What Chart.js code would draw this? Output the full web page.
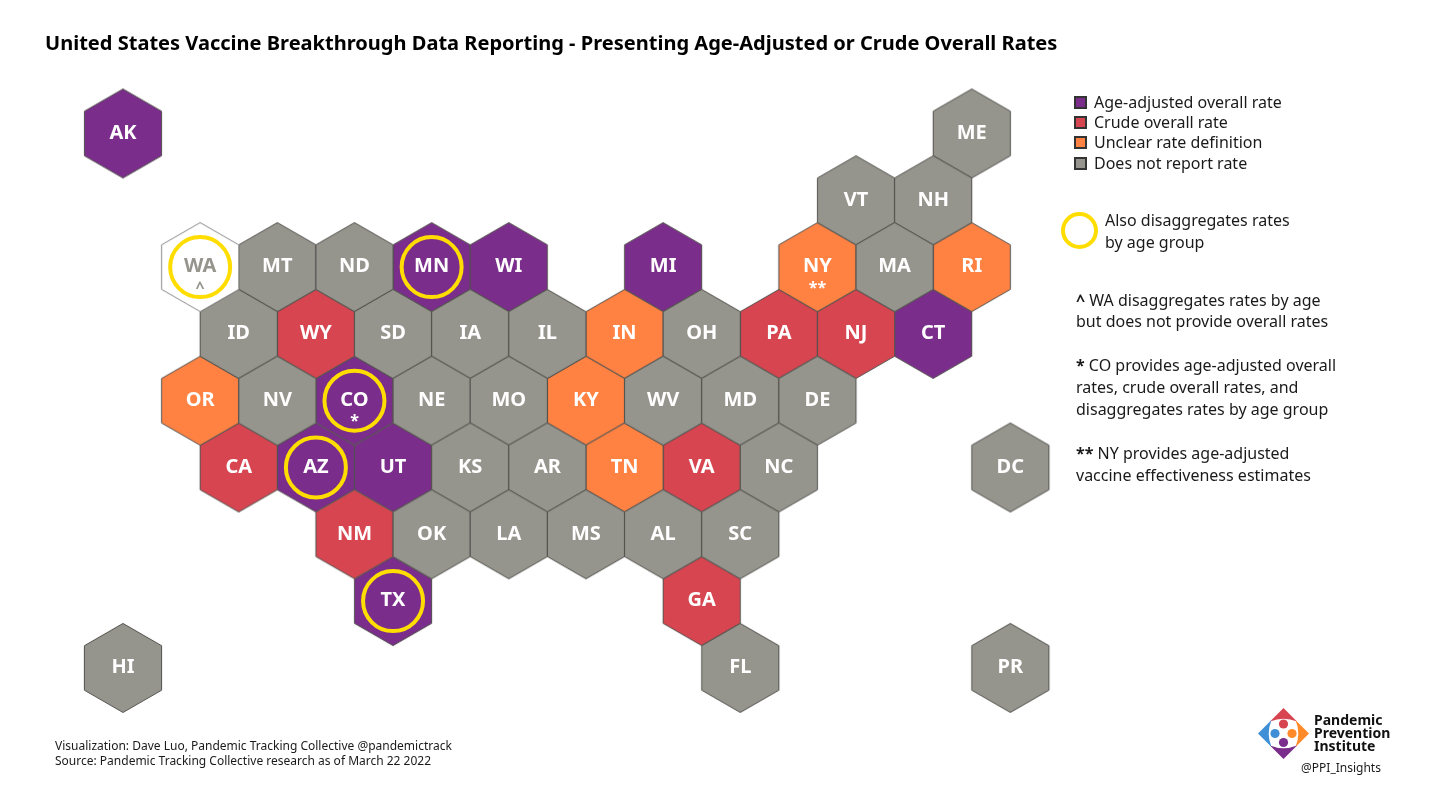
<!DOCTYPE html>
<html>
<head>
<meta charset="utf-8">
<script src="https://cdn.jsdelivr.net/npm/chart.js@4"></script>
<style>
  html, body { margin: 0; padding: 0; background: #fff; }
  body { width: 1440px; height: 793px; position: relative; overflow: hidden; font-family: "Noto Sans", sans-serif; color: #1a1a1a; }
  canvas { position: absolute; left: 0; top: 0; }
  .t { position: absolute; white-space: nowrap; transform: translateY(-50%); line-height: 1; }
  .title { font-size: 20.04px; font-weight: 700; color: #000; }
  .leg, .note { font-size: 16px; }
  .foot { font-size: 12px; }
  .logo { font-size: 14px; font-weight: 700; color: #111; }
  .swatch { position: absolute; width: 9px; height: 9px; border: 2px solid #333; }
  .ring { position: absolute; box-sizing: border-box; width: 37px; height: 37px; border: 4px solid #ffdd00; border-radius: 50%; }
</style>
</head>
<body>
<canvas id="map" width="1440" height="793"></canvas>
<svg id="logo" width="1440" height="793" style="position:absolute;left:0;top:0">
  <g>
    <path d="M1283.5 708 L1297 721.5 Q1283.5 716 1270 721.5 Z" fill="#d64550"/>
    <path d="M1283.5 708 L1297 721.5 Q1283.5 716 1270 721.5 Z" fill="#3f8fd6" transform="rotate(-90 1283.5 733.5)"/>
    <path d="M1283.5 708 L1297 721.5 Q1283.5 716 1270 721.5 Z" fill="#ff8a2a" transform="rotate(90 1283.5 733.5)"/>
    <path d="M1283.5 708 L1297 721.5 Q1283.5 716 1270 721.5 Z" fill="#7b2d8b" transform="rotate(180 1283.5 733.5)"/>
    <circle cx="1283.5" cy="724" r="4.6" fill="#d64550"/>
    <circle cx="1275" cy="733.5" r="4.6" fill="#3f8fd6"/>
    <circle cx="1292" cy="733.5" r="4.6" fill="#ff8a2a"/>
    <circle cx="1283.5" cy="742.5" r="4.6" fill="#7b2d8b"/>
  </g>
</svg>
<script>
// states, hex grid position (half columns, rows), reporting status
const stateCodes = ['AK','ME','VT','NH','WA','MT','ND','MN','WI','MI','NY','MA','RI','ID','WY','SD','IA','IL','IN','OH','PA','NJ','CT','OR','NV','CO','NE','MO','KY','WV','MD','DE','CA','AZ','UT','KS','AR','TN','VA','NC','DC','NM','OK','LA','MS','AL','SC','TX','GA','HI','FL','PR'];
const stateCols  = [0,22,19,21,2,4,6,8,10,14,18,20,22,3,5,7,9,11,13,15,17,19,21,2,4,6,8,10,12,14,16,18,3,5,7,9,11,13,15,17,23,6,8,10,12,14,16,7,15,0,16,23];
const stateRows  = [0,0,1,1,2,2,2,2,2,2,2,2,2,3,3,3,3,3,3,3,3,3,3,4,4,4,4,4,4,4,4,4,5,5,5,5,5,5,5,5,5,6,6,6,6,6,6,7,7,8,8,8];
const stateRates = ['adj','none','none','none','wa','none','none','adj','adj','adj','unclear','none','unclear','none','crude','none','none','none','unclear','none','crude','crude','adj','unclear','none','adj','none','none','unclear','none','none','none','crude','adj','adj','none','none','unclear','crude','none','none','crude','none','none','none','none','none','adj','crude','none','none','none'];
const ringStates = ['WA','MN','CO','AZ','TX'];
const markStates = ['WA','CO','NY'];
const markTexts  = ['^','*','**'];

const rateKeys   = ['adj','crude','unclear','none'];
const rateLabels = ['Age-adjusted overall rate','Crude overall rate','Unclear rate definition','Does not report rate'];
const rateColors = ['#7b2d8b','#d64550','#ff8243','#96958d'];

const titleText = 'United States Vaccine Breakthrough Data Reporting - Presenting Age-Adjusted or Crude Overall Rates';
const ringLines = ['Also disaggregates rates','by age group'];
const noteLines = [
  ['^',' WA disaggregates rates by age',300],['','but does not provide overall rates',321],
  ['*',' CO provides age-adjusted overall',365],['','rates, crude overall rates, and',387],['','disaggregates rates by age group',409],
  ['**',' NY provides age-adjusted',453],['','vaccine effectiveness estimates',475]
];
const footLines = ['Visualization: Dave Luo, Pandemic Tracking Collective @pandemictrack','Source: Pandemic Tracking Collective research as of March 22 2022'];
const logoLines = ['Pandemic','Prevention','Institute'];

function hexImage(fill, stroke) {
  const c = document.createElement('canvas');
  c.width = 82; c.height = 94;
  const g = c.getContext('2d');
  const hw = 38.6, hh = 44.5, q = 22.25, cx = 41, cy = 47;
  g.beginPath();
  g.moveTo(cx, cy - hh);
  g.lineTo(cx + hw, cy - q);
  g.lineTo(cx + hw, cy + q);
  g.lineTo(cx, cy + hh);
  g.lineTo(cx - hw, cy + q);
  g.lineTo(cx - hw, cy - q);
  g.closePath();
  g.fillStyle = fill; g.fill();
  g.lineWidth = 1; g.strokeStyle = stroke; g.stroke();
  return c;
}

function pointsFor(codes) {
  return codes.map(s => { const i = stateCodes.indexOf(s); return { x: stateCols[i], y: stateRows[i], code: s }; });
}

const rateSets = rateKeys.map((k, i) => ({
  label: rateLabels[i],
  data: pointsFor(stateCodes.filter((s, j) => stateRates[j] === k)),
  pointStyle: hexImage(rateColors[i], '#50504c'),
  order: 5 - i
}));

const hexLabels = {
  id: 'hexLabels',
  afterDatasetsDraw(chart) {
    const { ctx, scales: { x, y } } = chart;
    ctx.save();
    ctx.textAlign = 'center';
    ctx.textBaseline = 'middle';
    stateCodes.forEach((s, i) => {
      const px = x.getPixelForValue(stateCols[i]), py = y.getPixelForValue(stateRows[i]);
      ctx.fillStyle = s === 'WA' ? '#96958d' : '#fff';
      ctx.font = '700 20px "Noto Sans"';
      ctx.fillText(s, px, py - 0.5);
      const m = markStates.indexOf(s);
      if (m >= 0) {
        ctx.font = '700 16px "Noto Sans"';
        ctx.fillText(markTexts[m], px, py + 21);
      }
    });
    ctx.restore();
  }
};

new Chart(document.getElementById('map'), {
  type: 'scatter',
  data: { datasets: [
    { label: 'Also disaggregates rates by age group', data: pointsFor(ringStates), pointStyle: 'circle', pointRadius: 30, pointHoverRadius: 30, borderWidth: 4, borderColor: '#ffdd00', backgroundColor: 'rgba(0,0,0,0)', order: 0 },
    { label: 'Washington', data: pointsFor(['WA']), pointStyle: hexImage('#ffffff', '#8a8a8a'), order: 1 },
    ...rateSets
  ]},
  options: {
    responsive: false,
    animation: false,
    events: [],
    layout: { padding: 0, autoPadding: false },
    plugins: { legend: { display: false }, tooltip: { enabled: false } },
    // 1 half-column = 38.58px, 1 row = 66.8px, AK hex centred at 123,133.5
    scales: {
      x: { type: 'linear', display: false, min: -3.188, max: 34.137 },
      y: { type: 'linear', display: false, min: -1.9985, max: 9.8728, reverse: true }
    }
  },
  plugins: [hexLabels]
});

function addText(cls, left, top, text, boldPart) {
  const d = document.createElement('div');
  d.className = 't ' + cls;
  d.style.left = left + 'px';
  d.style.top = top + 'px';
  if (boldPart) { const b = document.createElement('b'); b.textContent = boldPart; d.appendChild(b); }
  d.appendChild(document.createTextNode(text));
  document.body.appendChild(d);
}

addText('title', 45, 43, titleText);
rateLabels.forEach((l, i) => {
  const top = [101.5, 121.5, 142, 162.5][i];
  addText('leg', 1094, top, l);
  const sw = document.createElement('div');
  sw.className = 'swatch';
  sw.style.left = '1074px';
  sw.style.top = (Math.round(top) - 6) + 'px';
  sw.style.background = rateColors[i];
  document.body.appendChild(sw);
});
const ring = document.createElement('div');
ring.className = 'ring';
ring.style.left = '1061px';
ring.style.top = '212px';
document.body.appendChild(ring);
ringLines.forEach((l, i) => addText('leg', 1105, 220 + i * 22, l));
noteLines.forEach(n => addText('note', 1076, n[2], n[1], n[0]));
footLines.forEach((l, i) => addText('foot', 55, 746 + i * 15, l));
logoLines.forEach((l, i) => addText('logo', 1314, 720 + i * 13, l));
addText('foot', 1301, 768, '@PPI_Insights');
</script>
</body>
</html>
